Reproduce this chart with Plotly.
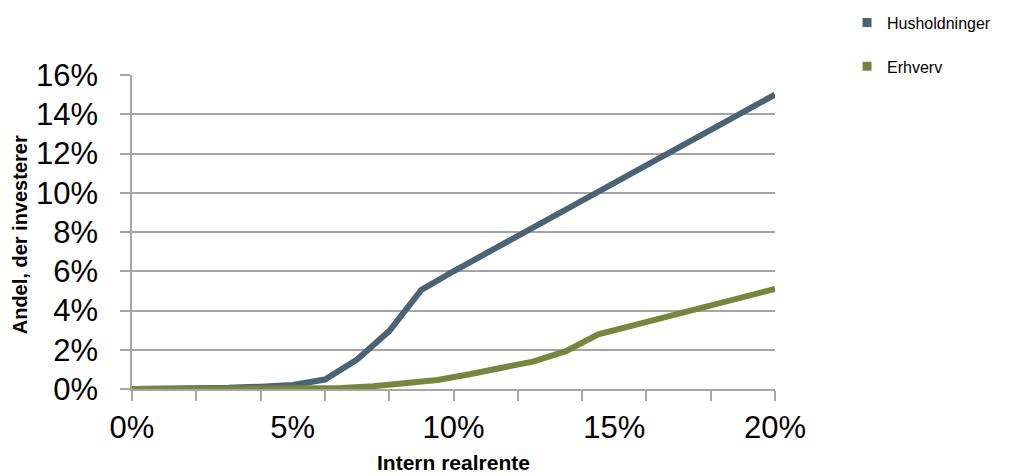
import plotly.graph_objects as go

# Andel af husholdninger og erhverv, der investerer, som funktion af intern realrente (%)
rente_hush = [0, 1, 2, 3, 4, 5, 6, 7, 8, 9, 10, 11, 12, 13, 14, 15, 16, 17, 18, 19, 20]
andel_hush = [0.0, 0.01, 0.03, 0.06, 0.12, 0.2, 0.48, 1.5, 2.95, 5.05, 6.0,
              6.9, 7.8, 8.7, 9.6, 10.5, 11.4, 12.3, 13.2, 14.1, 15.0]

rente_erhv = [0, 0.5, 1.5, 2.5, 3.5, 4.5, 5.5, 6.5, 7.5, 8.5, 9.5, 10.5, 11.5,
              12.5, 13.5, 14.5, 15.5, 16.5, 17.5, 18.5, 19.5, 20]
andel_erhv = [0.0, 0.0, 0.0, 0.0, 0.0, 0.0, 0.02, 0.05, 0.14, 0.28, 0.46, 0.75, 1.05,
              1.41, 1.93, 2.78, 3.2, 3.62, 4.04, 4.46, 4.88, 5.1]

serier = ["Husholdninger", "Erhverv"]
farver = ["#4A6375", "#76863C"]

x_labels = [0, 5, 10, 15, 20]
y_ticks = [0, 2, 4, 6, 8, 10, 12, 14, 16]

GRID = "#A6A6A6"
FONT = "Liberation Sans, Arial, sans-serif"

fig = go.Figure()

for xs, ys, navn, farve in [(rente_hush, andel_hush, serier[0], farver[0]),
                            (rente_erhv, andel_erhv, serier[1], farver[1])]:
    fig.add_trace(go.Scatter(
        x=xs, y=ys, mode="lines", name=navn, showlegend=False,
        line=dict(color=farve, width=6), cliponaxis=False,
        hovertemplate="%{x}%: %{y:.2f}%<extra>" + navn + "</extra>",
    ))

# legend entries drawn as small squares
for navn, farve in zip(serier, farver):
    fig.add_trace(go.Scatter(
        x=[None], y=[None], mode="markers", name=navn, legendgroup=navn,
        marker=dict(symbol="square", size=9, color=farve),
    ))

# secondary x axis carries the percent labels every 5 points
fig.add_trace(go.Scatter(x=[None], y=[None], xaxis="x2", showlegend=False))

fig.update_layout(
    width=1010, height=476,
    margin=dict(l=132, r=235, t=75, b=87, autoexpand=False),
    paper_bgcolor="white", plot_bgcolor="white",
    font=dict(family=FONT, color="black"),
    xaxis=dict(
        range=[0, 20], dtick=2, tick0=0, showticklabels=False,
        ticks="outside", ticklen=10, tickcolor=GRID, tickwidth=1.5,
        showgrid=False, zeroline=False,
        showline=True, linecolor=GRID, linewidth=1.5,
        fixedrange=True,
    ),
    xaxis2=dict(
        range=[0, 20], overlaying="x", side="bottom", anchor="y",
        tickmode="array", tickvals=x_labels,
        ticktext=[f"{v}%" for v in x_labels],
        ticks="", showgrid=False, zeroline=False, showline=False,
        tickfont=dict(size=31, family=FONT), ticklabelstandoff=17,
    ),
    yaxis=dict(
        range=[0, 16], tickmode="array", tickvals=y_ticks,
        ticktext=[f"{v}%" for v in y_ticks],
        tickfont=dict(size=31, family=FONT),
        ticks="outside", ticklen=10, tickcolor=GRID, tickwidth=1.5,
        ticklabelstandoff=16,
        showgrid=True, gridcolor=GRID, gridwidth=1.5,
        zeroline=False, showline=True, linecolor=GRID, linewidth=1.5,
        fixedrange=True,
    ),
    legend=dict(
        x=1.112, y=1.221, xanchor="left", yanchor="top",
        font=dict(size=16, family=FONT), tracegroupgap=20,
        bgcolor="rgba(0,0,0,0)",
    ),
    annotations=[
        dict(text="<b>Intern realrente</b>", xref="paper", yref="paper",
             x=0.5, y=-0.234, xanchor="center", yanchor="middle",
             showarrow=False, font=dict(size=21, family=FONT)),
        dict(text="<b>Andel, der investerer</b>", xref="paper", yref="paper",
             x=-0.174, y=0.49, xanchor="center", yanchor="middle", textangle=-90,
             showarrow=False, font=dict(size=20, family=FONT)),
    ],
)

fig.write_html("out.html")
